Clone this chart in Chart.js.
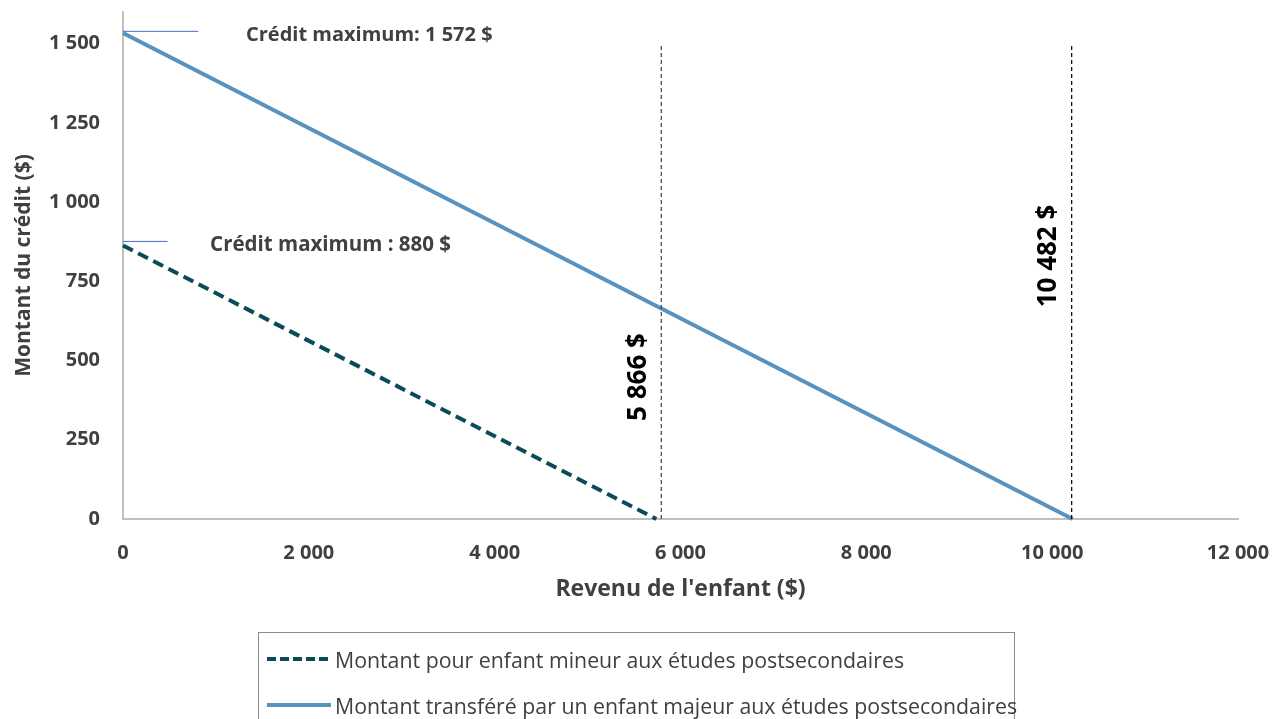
<!DOCTYPE html>
<html lang="fr">
<head>
<meta charset="utf-8">
<script src="https://cdn.jsdelivr.net/npm/chart.js@4.4.1/dist/chart.umd.min.js"></script>
<style>
  html, body { margin: 0; padding: 0; background: #fff; overflow: hidden; }
  #wrap { position: relative; width: 1273px; height: 719px; }
  canvas { display: block; }
  #legend {
    position: absolute; left: 258px; top: 632px; width: 757px; height: 100px;
    border: 1px solid #8c8c8c; box-sizing: border-box;
    font-family: "Open Sans", Lato, sans-serif; font-size: 21.3px; color: #404040;
  }
  .item { position: absolute; left: 0; height: 26px; display: flex; align-items: center; white-space: nowrap; }
  .sample { width: 64px; height: 4px; margin: 0 4px 0 8px; }
  .dash { background: repeating-linear-gradient(90deg, #0b4a58 0 9px, transparent 9px 13px); }
  .solid { background: #5693c1; }
</style>
</head>
<body>
<div id="wrap">
  <canvas id="creditChart" width="1273" height="719"></canvas>
  <div id="legend">
    <div class="item" style="top:13px"><span class="sample dash"></span>Montant pour enfant mineur aux études postsecondaires</div>
    <div class="item" style="top:59px"><span class="sample solid"></span>Montant transféré par un enfant majeur aux études postsecondaires</div>
  </div>
</div>
<script>
// Crédit pour enfant aux études postsecondaires

// Enfant mineur (pointillé)
const revenuMineur = [0, 5740];
const creditMineur = [863, 0];

// Enfant majeur (trait plein)
const revenuMajeur = [0, 10220];
const creditMajeur = [1534, 0];

// Seuils de revenu (lignes verticales)
const seuilsRevenu = [5793, 10210];
const seuilsEtiquettes = ['5 866 $', '10 482 $'];
const seuilHaut = 1500;

// Repères du crédit maximum
const maxCredits = [1539, 876];
const maxLongueur = [810, 480];
const maxEtiquettes = ['Crédit maximum: 1 572 $', 'Crédit maximum : 880 $'];

// Graduations
const yTicks = [0, 250, 500, 750, 1000, 1250, 1500];

const FONT = '"Open Sans", Lato, sans-serif';

function fmt(v) {
    return String(v).replace(/\B(?=(\d{3})+(?!\d))/g, ' ');
}

function pts(xs, ys) {
    return xs.map((x, i) => ({ x: x, y: ys[i] }));
}

// Text annotations, placed in data units (dy nudges the glyphs onto the mark)
const annotations = [
    { text: maxEtiquettes[0], x: 1324, y: maxCredits[0], dy: 4, rot: 0, align: 'left', size: 20, color: '#404040' },
    { text: maxEtiquettes[1], x: 937, y: maxCredits[1], dy: 4, rot: 0, align: 'left', size: 20.5, color: '#404040' },
    { text: seuilsEtiquettes[0], x: 5545, y: 448, dy: 0, rot: -Math.PI / 2, align: 'center', size: 26, color: '#000' },
    { text: seuilsEtiquettes[1], x: 9960, y: 830, dy: 0, rot: -Math.PI / 2, align: 'center', size: 26, color: '#000' }
];

const textPlugin = {
    id: 'textPlugin',
    afterDraw(chart) {
        const c = chart.ctx;
        const xs = chart.scales.x, ys = chart.scales.y;
        annotations.forEach(a => {
            c.save();
            c.translate(xs.getPixelForValue(a.x), ys.getPixelForValue(a.y) + a.dy);
            c.rotate(a.rot);
            c.font = 'bold ' + a.size + 'px ' + FONT;
            c.fillStyle = a.color;
            c.textAlign = a.align;
            c.textBaseline = 'middle';
            c.fillText(a.text, 0, 0);
            c.restore();
        });
    }
};

const datasets = [];
seuilsRevenu.forEach((s, i) => {
    datasets.push({
        data: pts([s, s], [0, seuilHaut]),
        borderColor: i === 0 ? '#404040' : '#000',
        borderWidth: 1.2,
        borderDash: [4, 3]
    });
});
maxCredits.forEach((m, i) => {
    datasets.push({
        data: pts([0, maxLongueur[i]], [m, m]),
        borderColor: '#4472c4',
        borderWidth: 1
    });
});
datasets.push({
    label: 'Montant pour enfant mineur aux études postsecondaires',
    data: pts(revenuMineur, creditMineur),
    borderColor: '#0b4a58',
    borderWidth: 4,
    borderDash: [11, 6]
});
datasets.push({
    label: 'Montant transféré par un enfant majeur aux études postsecondaires',
    data: pts(revenuMajeur, creditMajeur),
    borderColor: '#5693c1',
    borderWidth: 4
});
datasets.forEach(d => {
    d.showLine = true;
    d.pointRadius = 0;
    d.fill = false;
});

new Chart(document.getElementById('creditChart'), {
    type: 'scatter',
    data: { datasets: datasets },
    options: {
        responsive: false,
        animation: false,
        clip: false,
        layout: { padding: { left: 0, right: 35, top: 12, bottom: 112 } },
        plugins: { legend: { display: false }, tooltip: { enabled: false } },
        scales: {
            x: {
                type: 'linear', min: 0, max: 12000,
                afterFit: s => { s.height = 88; s.paddingLeft = 0; s.paddingRight = 0; },
                grid: { display: false },
                border: { color: '#bfbfbf', width: 2 },
                ticks: {
                    stepSize: 2000, padding: 14, color: '#404040', maxRotation: 0,
                    font: { family: FONT, size: 20, weight: 'bold' },
                    callback: v => fmt(v)
                },
                title: {
                    display: true, text: "Revenu de l'enfant ($)", color: '#404040',
                    font: { family: FONT, size: 23, weight: 'bold' }
                }
            },
            y: {
                type: 'linear', min: 0, max: 1600,
                afterFit: s => { s.width = 123; s.paddingTop = 0; s.paddingBottom = 0; },
                afterBuildTicks: s => { s.ticks = yTicks.map(v => ({ value: v })); },
                grid: { display: false },
                border: { color: '#bfbfbf', width: 2 },
                ticks: {
                    padding: 15, color: '#404040',
                    font: { family: FONT, size: 20, weight: 'bold' },
                    callback: v => fmt(v)
                },
                title: {
                    display: true, text: 'Montant du crédit ($)', color: '#404040',
                    padding: { top: 11, bottom: 0 },
                    font: { family: FONT, size: 21, weight: 'bold' }
                }
            }
        }
    },
    plugins: [textPlugin]
});
</script>
</body>
</html>
